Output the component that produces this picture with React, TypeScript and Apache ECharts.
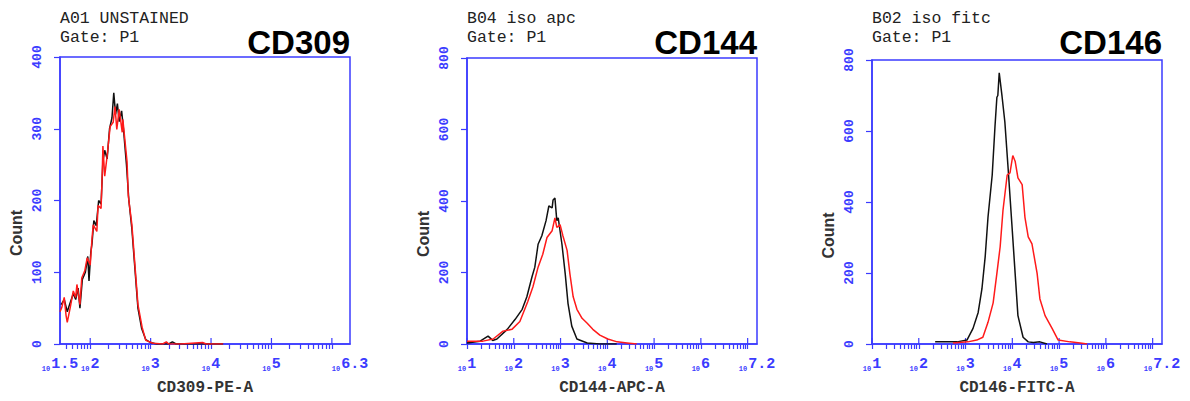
import React, { useEffect, useRef } from 'react';
import * as echarts from 'echarts';

// ---------- data ----------
const markerNames = ['CD309', 'CD144', 'CD146'];
const sampleNames = ['A01 UNSTAINED', 'B04 iso apc', 'B02 iso fitc'];
const gateNames = ['Gate: P1', 'Gate: P1', 'Gate: P1'];
const xAxisNames = ['CD309-PE-A', 'CD144-APC-A', 'CD146-FITC-A'];
const yAxisName = 'Count';

// x axis in log10 units (exponent of 10)
const xMins = [1.5, 1, 1];
const xMaxs = [6.3, 7.2, 7.2];
const xTickLabels = [
  [1.5, 2, 3, 4, 5, 6.3],
  [1, 2, 3, 4, 5, 6, 7.2],
  [1, 2, 3, 4, 5, 6, 7.2],
];
const yMaxs = [400, 800, 800];
const yIntervals = [100, 200, 200];

// CD309 (PE) histograms
const cd309BlackX = [1.52, 1.57, 1.62, 1.67, 1.72, 1.76, 1.8, 1.83, 1.87, 1.92, 1.96, 1.98, 2.01, 2.03, 2.06, 2.1, 2.14, 2.18, 2.21, 2.24, 2.28, 2.32, 2.36, 2.39, 2.42, 2.45, 2.48, 2.52, 2.55, 2.6, 2.64, 2.69, 2.74, 2.79, 2.85, 2.92, 3.0, 3.1, 3.3, 3.36, 3.42, 3.7, 4.2];
const cd309BlackY = [55, 62, 45, 58, 70, 62, 78, 50, 90, 100, 122, 88, 128, 140, 172, 165, 200, 195, 255, 270, 258, 300, 315, 350, 320, 335, 310, 325, 300, 250, 200, 160, 105, 50, 22, 6, 2, 0, 0, 3, 0, 0, 0];
const cd309RedX = [1.5, 1.53, 1.57, 1.6, 1.62, 1.67, 1.72, 1.76, 1.78, 1.83, 1.86, 1.91, 1.95, 2.0, 2.03, 2.05, 2.11, 2.13, 2.18, 2.2, 2.21, 2.24, 2.28, 2.33, 2.38, 2.41, 2.44, 2.48, 2.53, 2.54, 2.61, 2.63, 2.69, 2.74, 2.79, 2.86, 2.92, 3.04, 3.2, 3.26, 3.3, 3.5, 3.86, 3.92, 4.2];
const cd309RedY = [45, 51, 65, 40, 30, 51, 74, 65, 83, 55, 92, 102, 120, 110, 147, 166, 157, 193, 189, 240, 276, 234, 262, 303, 309, 331, 299, 327, 295, 313, 254, 207, 166, 110, 55, 23, 5, 1, 0, 3, 0, 0, 2, 0, 0];

// CD144 (APC) histograms
const cd144BlackX = [1.0, 1.28, 1.45, 1.55, 1.64, 1.86, 2.03, 2.18, 2.28, 2.39, 2.45, 2.52, 2.6, 2.69, 2.75, 2.82, 2.84, 2.88, 2.92, 2.95, 3.03, 3.1, 3.16, 3.24, 3.35, 3.57, 3.84, 4.2];
const cd144BlackY = [3, 8, 22, 10, 14, 41, 69, 97, 132, 188, 215, 279, 303, 345, 386, 381, 403, 408, 345, 353, 279, 196, 113, 50, 14, 3, 0, 0];
const cd144RedX = [1.0, 1.34, 1.56, 1.77, 1.96, 2.13, 2.3, 2.41, 2.52, 2.62, 2.71, 2.82, 2.88, 2.92, 2.99, 3.05, 3.14, 3.2, 3.27, 3.35, 3.46, 3.57, 3.69, 3.84, 4.01, 4.21, 4.42, 4.63];
const cd144RedY = [8, 8, 14, 36, 41, 63, 119, 160, 215, 251, 298, 317, 353, 326, 334, 303, 262, 196, 132, 97, 72, 58, 41, 25, 14, 6, 3, 0];

// CD146 (FITC) histograms
const cd146BlackX = [2.35, 2.82, 3.03, 3.16, 3.27, 3.35, 3.42, 3.48, 3.57, 3.63, 3.67, 3.69, 3.72, 3.78, 3.84, 3.91, 3.99, 4.06, 4.12, 4.23, 4.34, 4.45, 4.59, 4.74];
const cd146BlackY = [6, 6, 11, 44, 89, 155, 246, 357, 476, 614, 695, 700, 764, 698, 626, 495, 338, 199, 80, 19, 6, 4, 6, 0];
const cd146RedX = [2.73, 3.05, 3.24, 3.37, 3.48, 3.59, 3.67, 3.74, 3.8, 3.89, 3.95, 4.01, 4.06, 4.12, 4.21, 4.27, 4.34, 4.42, 4.53, 4.59, 4.7, 4.85, 4.98, 5.23, 5.45, 5.6];
const cd146RedY = [3, 6, 11, 19, 61, 116, 199, 274, 376, 476, 482, 531, 515, 468, 449, 357, 302, 282, 199, 127, 80, 44, 11, 6, 3, 0];

const blackXs = [cd309BlackX, cd144BlackX, cd146BlackX];
const blackYs = [cd309BlackY, cd144BlackY, cd146BlackY];
const redXs = [cd309RedX, cd144RedX, cd146RedX];
const redYs = [cd309RedY, cd144RedY, cd146RedY];

// ---------- style / layout ----------
const BLUE = '#3b3bff';
const MONO = '"Liberation Mono", "DejaVu Sans Mono", monospace';
const SANS = '"Liberation Sans", Arial, sans-serif';
const grids = [
  { left: 60, top: 57, width: 290, height: 290 },
  { left: 467, top: 58, width: 290, height: 290 },
  { left: 872, top: 60, width: 290, height: 289 },
];

function zip(xs: number[], ys: number[]) {
  return xs.map((x, i) => [x, ys[i]]);
}

function minorTicks(min: number, max: number) {
  const out: number[] = [];
  for (let n = Math.floor(min); n <= Math.ceil(max); n++) {
    for (let k = 1; k <= 9; k++) {
      const v = n + Math.log10(k);
      if (v >= min - 1e-9 && v <= max + 1e-9) out.push(v);
    }
  }
  return out;
}

function majorTicks(min: number, max: number) {
  const out: number[][] = [];
  for (let n = Math.ceil(min); n <= Math.floor(max); n++) out.push([n, 0]);
  return out;
}

function buildOption() {
  const grid: any[] = [];
  const xAxis: any[] = [];
  const yAxis: any[] = [];
  const series: any[] = [];
  const graphic: any[] = [];

  for (let i = 0; i < 3; i++) {
    const g = grids[i];
    grid.push({
      ...g,
      show: true,
      borderColor: BLUE,
      borderWidth: 1.5,
      backgroundColor: 'transparent',
      containLabel: false,
    });
    xAxis.push({
      type: 'value',
      gridIndex: i,
      min: xMins[i],
      max: xMaxs[i],
      name: xAxisNames[i],
      nameLocation: 'middle',
      nameGap: 36,
      nameTextStyle: { fontFamily: MONO, fontSize: 16, fontWeight: 'bold', color: '#333' },
      splitLine: { show: false },
      axisLine: { show: true, onZero: false, lineStyle: { color: BLUE, width: 1.5 } },
      axisTick: {
        show: true,
        customValues: minorTicks(xMins[i], xMaxs[i]),
        length: 5,
        lineStyle: { color: BLUE, width: 1.2 },
      },
      axisLabel: {
        show: true,
        customValues: xTickLabels[i],
        margin: 14,
        formatter: (v: number) => `{s|10}{b|${Math.round(v * 10) / 10}}`,
        rich: {
          s: { fontFamily: MONO, fontSize: 7, fontWeight: 'bold', color: BLUE, verticalAlign: 'bottom', lineHeight: 14, padding: [0, 1, 0, 0] },
          b: { fontFamily: MONO, fontSize: 15, fontWeight: 'bold', color: BLUE, verticalAlign: 'bottom', lineHeight: 14 },
        },
      },
    });
    yAxis.push({
      type: 'value',
      gridIndex: i,
      min: 0,
      max: yMaxs[i],
      interval: yIntervals[i],
      splitLine: { show: false },
      axisLine: { show: true, lineStyle: { color: BLUE, width: 1.5 } },
      axisTick: { show: true, length: 6, lineStyle: { color: BLUE, width: 1.2 } },
      axisLabel: {
        rotate: 90,
        margin: 16,
        fontFamily: MONO,
        fontSize: 13,
        fontWeight: 'bold',
        color: BLUE,
      },
    });
    series.push({
      type: 'line',
      xAxisIndex: i,
      yAxisIndex: i,
      data: zip(blackXs[i], blackYs[i]),
      showSymbol: false,
      lineStyle: { color: '#111', width: 1.5 },
      itemStyle: { color: '#111' },
    });
    series.push({
      type: 'line',
      xAxisIndex: i,
      yAxisIndex: i,
      data: zip(redXs[i], redYs[i]),
      showSymbol: false,
      lineStyle: { color: '#ff1a1a', width: 1.5 },
      itemStyle: { color: '#ff1a1a' },
    });
    series.push({
      type: 'custom',
      xAxisIndex: i,
      yAxisIndex: i,
      silent: true,
      clip: false,
      data: majorTicks(xMins[i], xMaxs[i]),
      encode: { x: 0, y: 1 },
      renderItem: (params: any, api: any) => {
        const p = api.coord([api.value(0), 0]);
        return {
          type: 'line',
          shape: { x1: p[0], y1: p[1] - 6, x2: p[0], y2: p[1] },
          style: { stroke: BLUE, lineWidth: 1.2 },
        };
      },
    });

    graphic.push({
      type: 'text',
      x: g.left,
      y: 18,
      style: { text: sampleNames[i], font: `16.5px ${MONO}`, fill: '#222', textAlign: 'left', textVerticalAlign: 'middle' },
    });
    graphic.push({
      type: 'text',
      x: g.left,
      y: 37,
      style: { text: gateNames[i], font: `16.5px ${MONO}`, fill: '#222', textAlign: 'left', textVerticalAlign: 'middle' },
    });
    graphic.push({
      type: 'text',
      x: g.left + g.width,
      y: 42,
      style: { text: markerNames[i], font: `bold 33px ${SANS}`, fill: '#000', textAlign: 'right', textVerticalAlign: 'middle' },
    });
    graphic.push({
      type: 'text',
      x: g.left - 44,
      y: g.top + g.height / 2 + 31,
      rotation: Math.PI / 2,
      style: { text: yAxisName, font: `bold 16px ${SANS}`, fill: '#333', textAlign: 'center', textVerticalAlign: 'middle' },
    });
  }

  return {
    animation: false,
    backgroundColor: '#fff',
    grid,
    xAxis,
    yAxis,
    series,
    graphic,
  };
}

export default function App() {
  const ref = useRef<HTMLDivElement>(null);
  useEffect(() => {
    if (!ref.current) return;
    const chart = echarts.init(ref.current, undefined, { renderer: 'svg' });
    chart.setOption(buildOption() as any);
    return () => chart.dispose();
  }, []);
  return (
    <div
      ref={ref}
      style={{ position: 'fixed', left: 0, top: 0, width: 1190, height: 401, background: '#fff' }}
    />
  );
}
